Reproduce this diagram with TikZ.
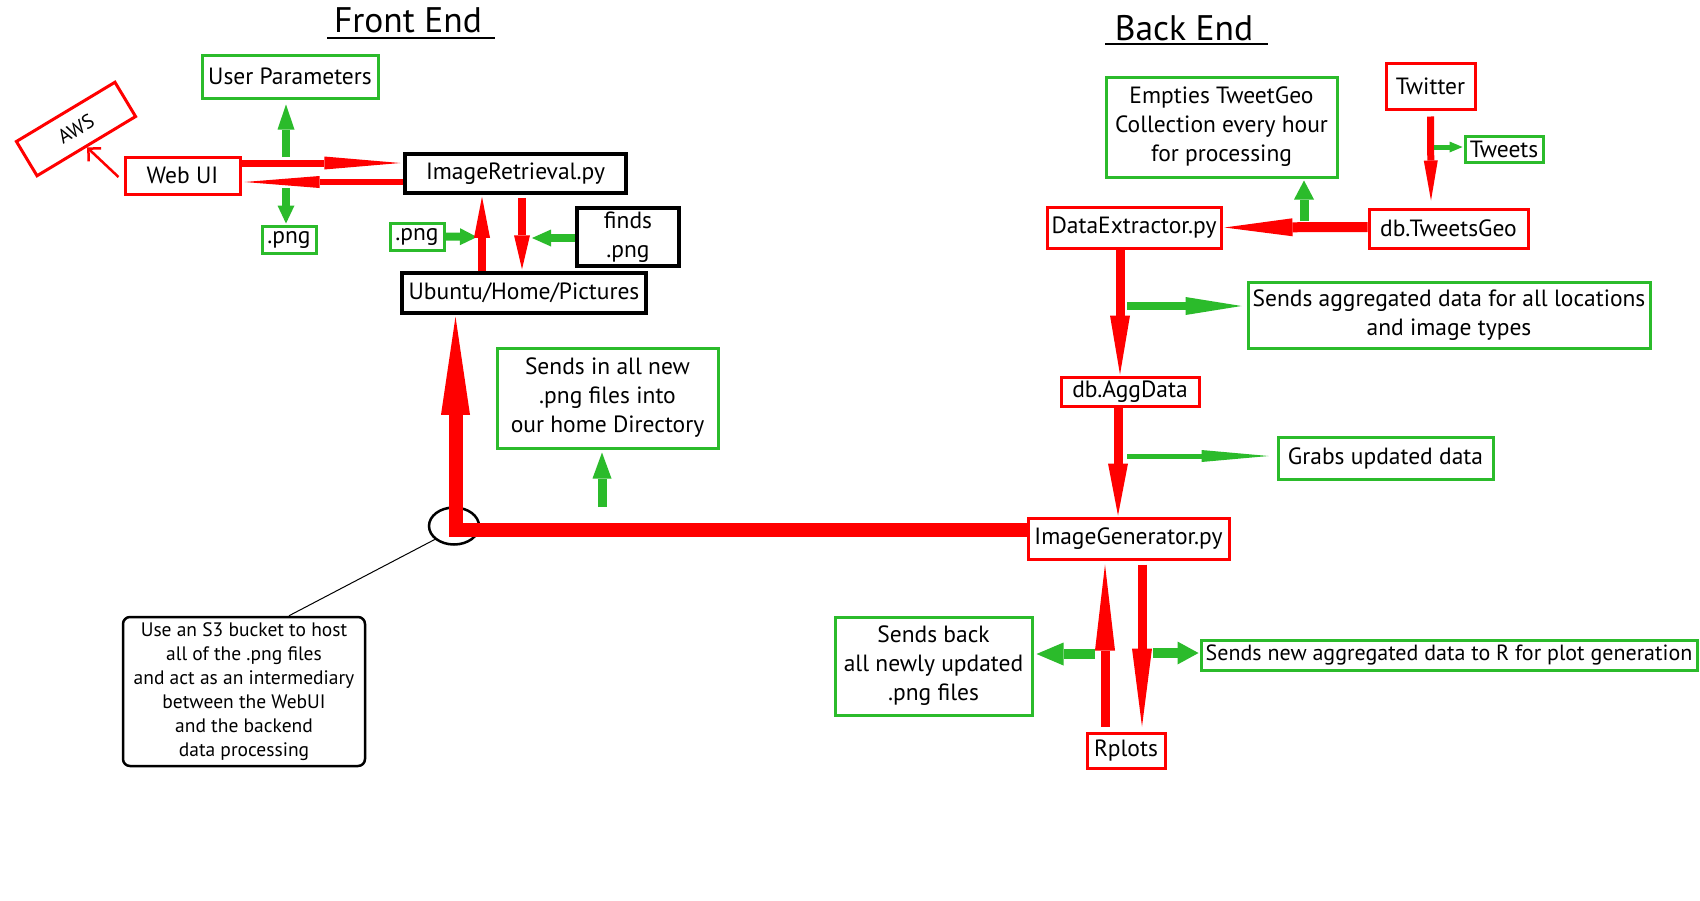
\documentclass[tikz,border=0pt]{standalone}
\usepackage{fontspec}
\setmainfont{PT Sans}
\usetikzlibrary{arrows.meta,shapes.geometric,calc}
\definecolor{grn}{RGB}{43,187,43}
\definecolor{rd}{RGB}{255,0,0}
\begin{document}
\begin{tikzpicture}[x=1pt,y=-1pt,
  box/.style={draw,line width=3pt,inner sep=0pt,align=center,font=\fontsize{23.5}{29}\selectfont},
  gbox/.style={box,draw=grn},
  rbox/.style={box,draw=rd},
  kbox/.style={box,draw=black,line width=3.5pt},
  title/.style={inner sep=0pt,font=\fontsize{35.5}{40}\selectfont},
  uline/.style={line width=1.5pt,draw=black},
  rarrow/.style args={#1/#2/#3}{draw=rd,line width=#1,line cap=butt,-{Triangle[length=#2,width=#3,line width=0pt]}},
  garrow/.style args={#1/#2/#3}{draw=grn,line width=#1,line cap=butt,-{Triangle[length=#2,width=#3,line width=0pt]}},
]
\fill[white] (0,0) rectangle (1700,900);
\useasboundingbox (0,0) rectangle (1700,900);

% titles
\node[title] (fe) at (408,20) {Front End};
\draw[uline] (327,38) -- (495,38);
\node[title] (be) at (1184,28) {Back End};
\draw[uline] (1105,44) -- (1268,44);

% front end nodes
\node[gbox,minimum width=176pt,minimum height=43pt] (userp) at (290,76.5) {User Parameters};
\node[rbox,minimum width=115pt,minimum height=40pt,rotate=31,font=\fontsize{20}{22}\selectfont] (aws) at (76,129) {AWS};
\node[rbox,minimum width=115pt,minimum height=37pt] (webui) at (182.5,175.5) {Web UI};
\node[kbox,minimum width=221pt,minimum height=39pt] (imgret) at (515.5,173.5) {ImageRetrieval.py};
\node[gbox,minimum width=54pt,minimum height=27pt] (png1) at (289,239.5) {.png};
\node[gbox,minimum width=54pt,minimum height=27pt] (png2) at (417,236.5) {.png};
\node[kbox,minimum width=102pt,minimum height=58pt] (finds) at (628,237) {finds\\.png};
\node[kbox,minimum width=244pt,minimum height=40pt] (ubuntu) at (524,293) {Ubuntu/Home/Pictures};
\node[gbox,minimum width=221pt,minimum height=100pt] (sendsin) at (607.5,398) {Sends in all new\\.png files into\\our home Directory};
\node[draw,line width=2.5pt,rounded corners=7pt,minimum width=242pt,minimum height=149pt,inner sep=0pt,align=center,font=\fontsize{19.5}{24}\selectfont] (s3) at (244,691.5) {Use an S3 bucket to host\\all of the .png files\\and act as an intermediary\\between the WebUI\\and the backend\\data processing};
\node[draw,ellipse,line width=2.5pt,minimum width=50pt,minimum height=37pt,inner sep=0pt] (ell) at (454,526) {};

% back end nodes
\node[gbox,minimum width=231pt,minimum height=100pt] (empties) at (1221.5,127) {Empties TweetGeo\\Collection every hour\\for processing};
\node[rbox,minimum width=89pt,minimum height=46pt] (twitter) at (1430.5,86) {Twitter};
\node[gbox,minimum width=78pt,minimum height=26pt] (tweets) at (1504,149) {Tweets};
\node[rbox,minimum width=174pt,minimum height=41pt] (dataex) at (1134,227.5) {DataExtractor.py};
\node[rbox,minimum width=159pt,minimum height=39pt] (tweetsgeo) at (1448.5,228.5) {db.TweetsGeo};
\node[gbox,minimum width=402pt,minimum height=66pt] (sendsagg) at (1449,315) {Sends aggregated data for all locations\\and image types};
\node[rbox,minimum width=138pt,minimum height=29pt] (aggdata) at (1130,391.5) {db.AggData};
\node[gbox,minimum width=215pt,minimum height=42pt] (grabs) at (1385.5,458) {Grabs updated data};
\node[rbox,minimum width=201pt,minimum height=41pt] (imggen) at (1128.5,538.5) {ImageGenerator.py};
\node[gbox,minimum width=197pt,minimum height=98pt] (sendsback) at (933.5,666) {Sends back\\all newly updated\\.png files};
\node[gbox,minimum width=496pt,minimum height=30pt,font=\fontsize{22}{26}\selectfont] (sendsnew) at (1449,655) {Sends new aggregated data to R for plot generation};
\node[rbox,minimum width=78pt,minimum height=35pt] (rplots) at (1126,750.5) {Rplots};

% free ends
\coordinate (gup1) at (286,157);
\coordinate (gdn1) at (286,188);
\coordinate (gpng2) at (477,237);
\coordinate (gfinds) at (532,238);
\coordinate (gsendsin) at (602,507);
\coordinate (gtweets) at (1434,147);
\coordinate (gempties) at (1304,221);
\coordinate (gsendsagg) at (1127,306);
\coordinate (ggrabs) at (1127,456);
\coordinate (gsendsback) at (1095,654);
\coordinate (gsendsnew) at (1153,653);

% front end connectors
\draw[draw=rd,line width=2.5pt,-{Straight Barb[length=9pt,width=18pt]}] ([xshift=-5pt,yshift=-1.5pt]webui.west) -- (aws.south);
\draw[rarrow=7pt/76pt/13pt] ([yshift=12.5pt]webui.east) -- ([xshift=-3pt,yshift=10.5pt]imgret.west);
\draw[rarrow=6pt/75pt/12pt] ([yshift=-8.5pt]imgret.west) -- ([xshift=3pt,yshift=-6.5pt]webui.east);
\draw[garrow=8pt/25pt/17pt] (gup1) -- ([xshift=-4pt,yshift=-5pt]userp.south);
\draw[garrow=8pt/18pt/17pt] (gdn1) -- ([xshift=-3pt,yshift=1pt]png1.north);
\draw[garrow=8pt/17pt/17pt] (png2.east) -- (gpng2);
\draw[rarrow=8pt/41pt/16pt] ([xshift=-42pt]ubuntu.north) -- ([xshift=-33.5pt,yshift=-2pt]imgret.south);
\draw[rarrow=8pt/34pt/16pt] ([xshift=6.5pt,yshift=-3pt]imgret.south) -- ([xshift=-2pt,yshift=2pt]ubuntu.north);
\draw[garrow=8pt/19pt/17pt] ([yshift=-1pt]finds.west) -- (gfinds);
\draw[rarrow=14pt/98pt/29pt,line join=miter] ([yshift=8.5pt]imggen.west) -| ([xshift=-68.5pt,yshift=-2pt]ubuntu.south);
\draw[garrow=9pt/26pt/19pt] (gsendsin) -- ([xshift=-5.5pt,yshift=-3pt]sendsin.south);
\draw[line width=1pt] (ell.215) -- ([xshift=45pt]s3.north);

% back end connectors
\draw[rarrow=7pt/40pt/14pt] ([yshift=-6pt]twitter.south) -- ([xshift=-17.5pt,yshift=7pt]tweetsgeo.north);
\draw[garrow=5pt/13pt/11pt] (gtweets) -- ([xshift=-1pt,yshift=2pt]tweets.west);
\draw[rarrow=10pt/68pt/18pt] ([yshift=1.5pt]tweetsgeo.west) -- ([xshift=2pt]dataex.east);
\draw[garrow=9pt/19pt/20pt] (gempties) -- ([xshift=82.5pt,yshift=-2pt]empties.south);
\draw[rarrow=9pt/59pt/20pt] ([xshift=-14pt]dataex.south) -- ([xshift=-10pt,yshift=1pt]aggdata.north);
\draw[garrow=8pt/56pt/18pt] (gsendsagg) -- ([xshift=-5pt,yshift=9pt]sendsagg.west);
\draw[rarrow=9pt/52pt/20pt] ([xshift=-12pt]aggdata.south) -- ([xshift=-10.5pt,yshift=1pt]imggen.north);
\draw[garrow=5pt/67pt/12pt] (ggrabs) -- ([xshift=-8pt,yshift=2pt]grabs.west);
\draw[rarrow=9pt/86pt/20pt] ([xshift=-21pt,yshift=5pt]rplots.north) -- ([xshift=-23.5pt,yshift=-4pt]imggen.south);
\draw[rarrow=9pt/78pt/20pt] ([xshift=13.5pt,yshift=-4pt]imggen.south) -- ([xshift=16pt,yshift=5pt]rplots.north);
\draw[garrow=10pt/27pt/23pt] (gsendsback) -- ([xshift=3pt,yshift=12pt]sendsback.east);
\draw[garrow=10pt/21pt/23pt] (gsendsnew) -- ([xshift=-1pt,yshift=2pt]sendsnew.west);
\end{tikzpicture}
\end{document}
